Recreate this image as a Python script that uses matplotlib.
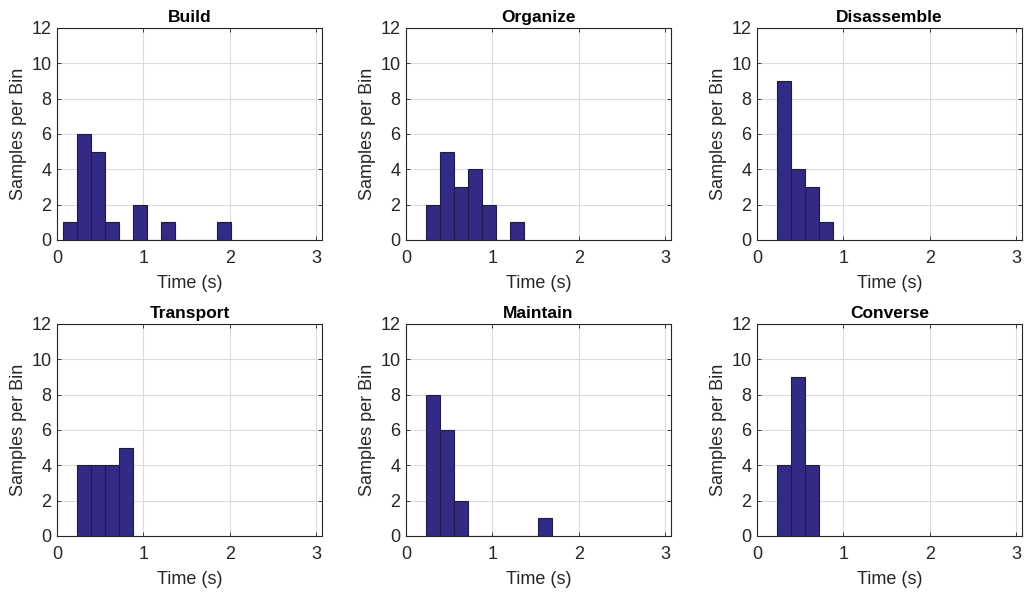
import numpy as np
import matplotlib
matplotlib.use('Agg')
import matplotlib.pyplot as plt

plt.rcParams['font.family'] = ['Liberation Sans', 'DejaVu Sans']

# bin layout shared by all panels (seconds)
bin_width = 0.1625
first_edge = 0.07

titles = ['Build', 'Organize', 'Disassemble', 'Transport', 'Maintain', 'Converse']
# counts per bin, starting at bin index given in start_bins
start_bins = [0, 1, 1, 1, 1, 1]
counts = [
    [1, 6, 5, 1, 0, 2, 0, 1, 0, 0, 0, 1],
    [2, 5, 3, 4, 2, 0, 1],
    [9, 4, 3, 1],
    [4, 4, 4, 5],
    [8, 6, 2, 0, 0, 0, 0, 0, 1],
    [4, 9, 4],
]

face = '#332a85'
edge = '#1e1a4a'
txt = '#262626'

fig = plt.figure(figsize=(10.26, 5.94), dpi=100)
W, H = 1026, 594
lefts = [57, 406, 757]
tops = [28, 324]
aw, ah = 265, 212

for i, (title, c, s) in enumerate(zip(titles, counts, start_bins)):
    r, col = divmod(i, 3)
    ax = fig.add_axes([lefts[col] / W, 1 - (tops[r] + ah) / H, aw / W, ah / H])
    lefts_x = first_edge + bin_width * (s + np.arange(len(c)))
    ax.bar(lefts_x, c, width=bin_width, align='edge', color=face,
           edgecolor=edge, linewidth=0.8, zorder=3)
    ax.set_xlim(0, 3.07)
    ax.set_ylim(0, 12)
    ax.set_xticks([0, 1, 2, 3])
    ax.set_yticks(range(0, 13, 2))
    ax.grid(True, color='#dcdcdc', linewidth=0.8, zorder=0)
    ax.tick_params(direction='in', top=True, right=True, labelsize=13,
                   colors=txt, length=3, width=0.6, pad=4)
    ax.tick_params(axis='x', pad=7)
    for sp in ax.spines.values():
        sp.set_color('#262626')
        sp.set_linewidth(0.8)
    ax.set_title(title, fontsize=12.5, fontweight='bold', color='black', pad=4)
    ax.set_xlabel('Time (s)', fontsize=13, color=txt, labelpad=6)
    ax.set_ylabel('Samples per Bin', fontsize=13, color=txt, labelpad=3)

fig.savefig('out.png', dpi=100, facecolor='white')
